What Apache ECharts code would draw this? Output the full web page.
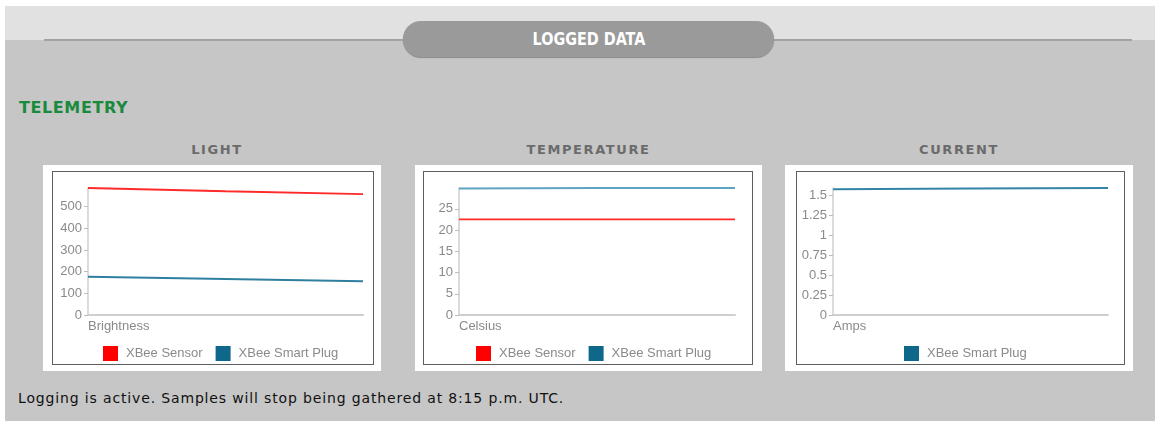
<!DOCTYPE html>
<html>
<head>
<meta charset="utf-8">
<title>Logged Data</title>
<script src="https://cdn.jsdelivr.net/npm/echarts@6/dist/echarts.min.js"></script>
<style>
  html, body { margin: 0; padding: 0; background: #fff; }
  #page { position: relative; width: 1155px; height: 421px; overflow: hidden; }
  .bg { position: absolute; left: 5px; top: 6px; width: 1150px; height: 415px; background: #c6c6c6; }
  .band { position: absolute; left: 5px; top: 6px; width: 1150px; height: 34px; background: #e1e1e1; }
  .rule { position: absolute; left: 44px; top: 39px; width: 1088px; height: 2px; background: #a2a2a2; }
  .pill { position: absolute; left: 403px; top: 21px; width: 371px; height: 36px; border-radius: 18px;
          background: #9a9a9a; box-shadow: 0 1px 1px #8a8a8a;
          color: #fff; text-align: center; line-height: 37px;
          font-family: "DejaVu Sans Condensed", "Liberation Sans Narrow", sans-serif; font-stretch: condensed;
          font-weight: bold; font-size: 17px; }
  .pill span { display: inline-block; transform: scaleX(0.94); }
  .section { position: absolute; left: 19px; top: 98px; color: #1a8a3c;
             font-family: "DejaVu Sans", sans-serif; font-weight: bold; font-size: 16px; letter-spacing: 0.6px; }
  .ptitle { position: absolute; top: 142px; text-align: center; color: #6b6b6b;
            font-family: "DejaVu Sans", sans-serif; font-weight: bold; font-size: 13px; letter-spacing: 1.6px; }
  .panel { position: absolute; top: 165px; height: 206px; background: #fff; }
  .frame { position: absolute; top: 171px; height: 192px; border: 1px solid #5e5e5e; background: #fff; }
  .note { position: absolute; left: 18px; top: 390px; color: #111;
          font-family: "DejaVu Sans", sans-serif; font-size: 14px; letter-spacing: 0.85px; }
  #chart { position: absolute; left: 0; top: 0; width: 1155px; height: 421px; }
</style>
</head>
<body>
<div id="page">
  <div class="bg"></div>
  <div class="band"></div>
  <div class="rule"></div>
  <div class="pill"><span>LOGGED DATA</span></div>
  <div class="section">TELEMETRY</div>

  <div class="ptitle" style="left:43px;width:348px;">LIGHT</div>
  <div class="ptitle" style="left:415px;width:347px;">TEMPERATURE</div>
  <div class="ptitle" style="left:785px;width:348px;">CURRENT</div>

  <div class="panel" style="left:43px;width:338px;"></div>
  <div class="panel" style="left:415px;width:347px;"></div>
  <div class="panel" style="left:785px;width:348px;"></div>
  <div class="frame" style="left:52px;width:320px;"></div>
  <div class="frame" style="left:423px;width:328px;"></div>
  <div class="frame" style="left:796px;width:327px;"></div>

  <div class="note">Logging is active. Samples will stop being gathered at 8:15 p.m. UTC.</div>
  <div id="chart"></div>
</div>
<script>
// Logged samples (oldest to newest)
const sampleTimes = ['19:15', '19:45', '20:15'];
const lightSensor = [586, 571, 558];
const lightPlug = [176, 166, 156];
const tempSensor = [22.5, 22.5, 22.5];
const tempPlug = [29.8, 29.9, 29.9];
const currentPlug = [1.575, 1.585, 1.59];

// Tick labels on each value axis
const lightTicks = [0, 100, 200, 300, 400, 500];
const tempTicks = [0, 5, 10, 15, 20, 25];
const currentTicks = [0, 0.25, 0.5, 0.75, 1, 1.25, 1.5];

const unitNames = ['Brightness', 'Celsius', 'Amps'];

const SENSOR = 'XBee Sensor';
const PLUG = 'XBee Smart Plug';
const RED = '#ff0000';
const TEAL = '#0f678a';

const labelFont = { fontFamily: '"Liberation Sans", Arial, sans-serif', fontSize: 13, color: '#8a8a8a' };

const grids = [
  { left: 88, top: 188, width: 275, height: 127 },
  { left: 459, top: 188, width: 276, height: 127 },
  { left: 833, top: 188, width: 275, height: 127 }
];

function xAxisFor(i) {
  return {
    gridIndex: i,
    type: 'category',
    boundaryGap: false,
    data: sampleTimes,
    name: unitNames[i],
    nameLocation: 'start',
    nameGap: 0,
    nameTextStyle: Object.assign({ align: 'left', verticalAlign: 'top', padding: [5, 0, 0, 0] }, labelFont),
    axisLine: { lineStyle: { color: '#cfcfcf', width: 2 } },
    axisTick: { show: false },
    axisLabel: { show: false },
    splitLine: { show: false }
  };
}

function yAxisFor(i, ticks) {
  return {
    gridIndex: i,
    type: 'value',
    min: 0,
    max: function (v) { return v.max; },
    axisLine: { show: true, lineStyle: { color: '#cfcfcf', width: 1.5 } },
    axisTick: { show: true, length: 4, customValues: ticks, lineStyle: { color: '#bdbdbd' } },
    axisLabel: Object.assign({ margin: 6, customValues: ticks }, labelFont),
    splitLine: { show: false }
  };
}

function line(name, i, data, color, lineColor, width) {
  return {
    name: name,
    type: 'line',
    xAxisIndex: i,
    yAxisIndex: i,
    data: data,
    symbol: 'none',
    color: color,
    lineStyle: { color: lineColor, width: width },
    animation: false
  };
}

function legendFor(left, names) {
  return {
    left: left,
    top: 346,
    padding: 0,
    itemWidth: 15,
    itemHeight: 15,
    itemGap: 13,
    icon: 'rect',
    selectedMode: false,
    textStyle: Object.assign({ padding: [0, 0, 0, 3] }, labelFont),
    data: names.map(function (n) {
      return { name: n, itemStyle: { color: n === SENSOR ? RED : TEAL, borderWidth: 0 } };
    })
  };
}

const chart = echarts.init(document.getElementById('chart'), null, { renderer: 'canvas' });
chart.setOption({
  backgroundColor: 'transparent',
  animation: false,
  grid: grids,
  xAxis: [xAxisFor(0), xAxisFor(1), xAxisFor(2)],
  yAxis: [yAxisFor(0, lightTicks), yAxisFor(1, tempTicks), yAxisFor(2, currentTicks)],
  legend: [
    legendFor(103, [SENSOR, PLUG]),
    legendFor(476, [SENSOR, PLUG]),
    legendFor(904, [PLUG])
  ],
  series: [
    line(SENSOR, 0, lightSensor, RED, '#ff2a2a', 1.8),
    line(PLUG, 0, lightPlug, TEAL, '#2f7fa1', 2),
    line(SENSOR, 1, tempSensor, RED, '#ff2a2a', 1.8),
    line(PLUG, 1, tempPlug, TEAL, '#5ea3c2', 2),
    line(PLUG, 2, currentPlug, TEAL, '#3584a6', 2)
  ]
});
</script>
</body>
</html>
